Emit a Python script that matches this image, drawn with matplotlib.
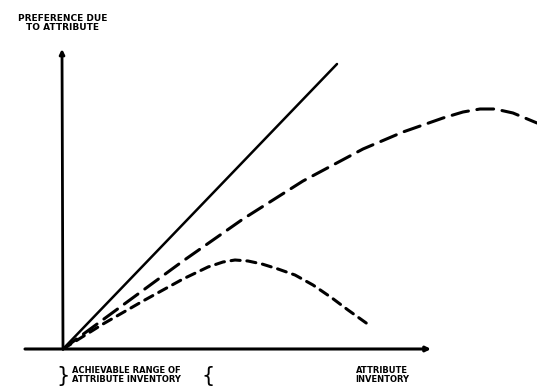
import matplotlib
matplotlib.use("Agg")
import matplotlib.pyplot as plt

# attribute inventory (x) vs preference due to attribute (y), arbitrary units
linear_x = [0, 274]
linear_y = [0, 285]

concave_x = [0, 60, 120, 180, 240, 300, 340, 380, 400, 417, 432, 450, 474]
concave_y = [0, 44, 88, 130, 168, 200, 217, 231, 237, 240, 240, 236, 226]

peaked_x = [0, 40, 80, 120, 145, 160, 172, 185, 199, 215, 232, 250, 269, 285, 306]
peaked_y = [0, 25, 48, 70, 82, 87, 89, 88, 85, 80, 74, 64, 51, 39, 24]

y_label = "PREFERENCE DUE\nTO ATTRIBUTE"
x_label = "ATTRIBUTE\nINVENTORY"
range_label = "ACHIEVABLE RANGE OF\nATTRIBUTE INVENTORY"

fig = plt.figure(figsize=(5.37, 3.91), dpi=100)
ax = fig.add_axes([0, 0, 1, 1])
ax.set_xlim(-63, 474)
ax.set_ylim(-42, 349)
ax.axis("off")

ink = "black"

# axes with arrowheads
ax.annotate("", xy=(368, 0), xytext=(-38, 0),
            arrowprops=dict(arrowstyle="-|>", color=ink, lw=2.2,
                            mutation_scale=7, shrinkA=0, shrinkB=0))
ax.annotate("", xy=(-1, 300), xytext=(0, 0),
            arrowprops=dict(arrowstyle="-|>", color=ink, lw=2.0,
                            mutation_scale=7, shrinkA=0, shrinkB=0))

ax.plot(linear_x, linear_y, color=ink, lw=1.8, solid_capstyle="round")
ax.plot(concave_x, concave_y, color=ink, lw=2.2, dashes=(5.5, 2.8),
        dash_capstyle="round", solid_joinstyle="round")
ax.plot(peaked_x, peaked_y, color=ink, lw=2.2, dashes=(3.0, 2.2),
        dash_capstyle="round", solid_joinstyle="round")

txt = dict(fontsize=6, fontweight="bold", color=ink, ha="center",
           va="center", linespacing=1.0)
ax.text(0, 326, y_label, **{**txt, "fontsize": 6.5})
ax.text(319, -26, x_label, **txt)
ax.text(63, -26, range_label, **txt)

# range brackets either side of the achievable range
ax.text(0, -27, "}", fontsize=15, color=ink, ha="center", va="center")
ax.text(145, -27, "{", fontsize=15, color=ink, ha="center", va="center")

fig.savefig("out.png", dpi=100, facecolor="white")
